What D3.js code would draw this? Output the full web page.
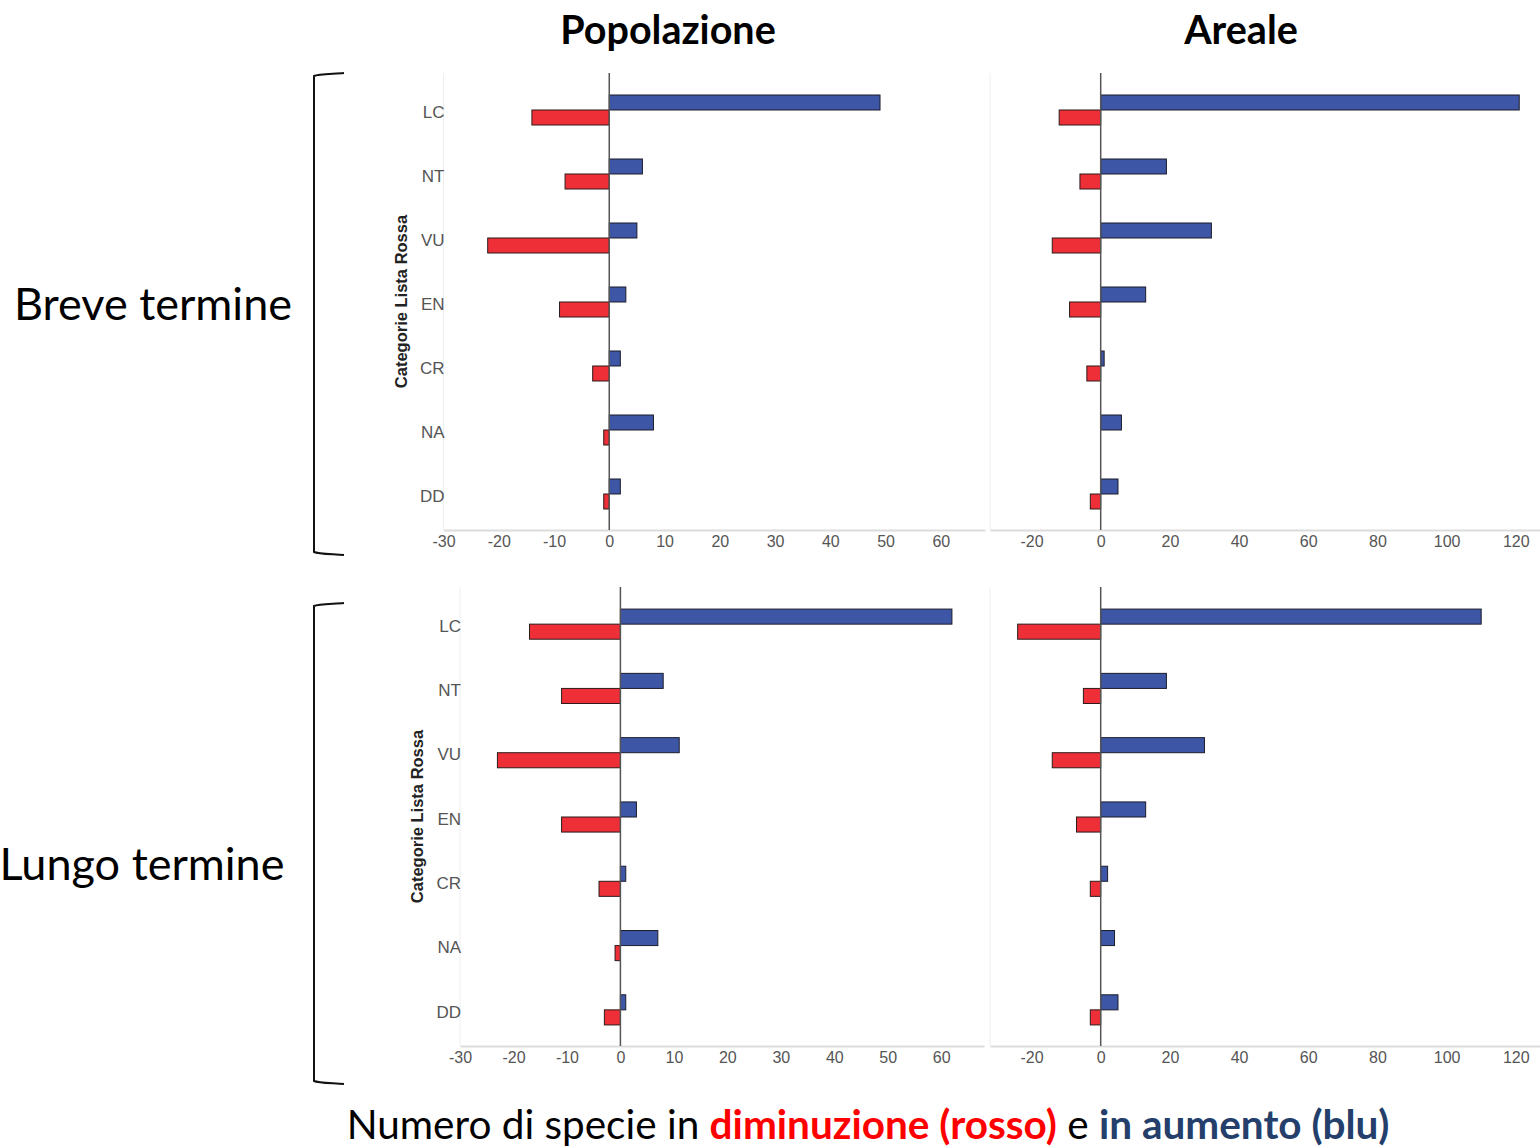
<!DOCTYPE html>
<html>
<head>
<meta charset="utf-8">
<script src="https://cdn.jsdelivr.net/npm/d3@7"></script>
<style>
  body { margin: 0; background: #fff; }
  svg { display: block; }
</style>
</head>
<body>
<svg id="chart" width="1540" height="1147"></svg>
<script>
// categorie Lista Rossa
const categories = ['LC', 'NT', 'VU', 'EN', 'CR', 'NA', 'DD'];

// Popolazione - breve termine
const popBreveUp = [49, 6, 5, 3, 2, 8, 2];
const popBreveDown = [-14, -8, -22, -9, -3, -1, -1];
// Areale - breve termine
const arBreveUp = [121, 19, 32, 13, 1, 6, 5];
const arBreveDown = [-12, -6, -14, -9, -4, 0, -3];
// Popolazione - lungo termine
const popLungoUp = [62, 8, 11, 3, 1, 7, 1];
const popLungoDown = [-17, -11, -23, -11, -4, -1, -3];
// Areale - lungo termine
const arLungoUp = [110, 19, 30, 13, 2, 4, 5];
const arLungoDown = [-24, -5, -14, -7, -3, 0, -3];

const popTicks = [-30, -20, -10, 0, 10, 20, 30, 40, 50, 60];
const arTicks = [-20, 0, 20, 40, 60, 80, 100, 120];

const BLUE = '#3d56a6';
const RED = '#ee2f37';

const svg = d3.select('#chart');
svg.append('rect').attr('width', 1540).attr('height', 1147).attr('fill', '#fff');

function drawPanel(opt) {
	const g = svg.append('g');
	const x = d3.scaleLinear().domain(opt.xDomain).range(opt.xRange);
	const y = d3.scaleBand()
		.domain(categories)
		.range([opt.top, opt.bottom - 5])
		.paddingInner(0.53125)
		.paddingOuter(0.25);
	const sub = d3.scaleBand().domain(['up', 'down']).range([0, y.bandwidth()]);

	// linea sinistra chiara
	g.append('line')
		.attr('x1', opt.xRange[0]).attr('x2', opt.xRange[0])
		.attr('y1', opt.top - 6).attr('y2', opt.bottom)
		.attr('stroke', '#eeeeee');

	// asse x
	const xAxis = g.append('g')
		.attr('transform', 'translate(0,' + opt.bottom + ')')
		.call(d3.axisBottom(x).tickValues(opt.ticks).tickSize(0).tickPadding(6).tickFormat(d3.format('d')));
	xAxis.select('.domain').attr('stroke', '#dcdcdc').attr('stroke-width', 2);
	xAxis.selectAll('text')
		.attr('fill', '#555')
		.style('font-family', '"Liberation Sans", Arial, sans-serif')
		.style('font-size', '16px')
		.text(d => d < 0 ? '-' + Math.abs(d) : d);

	// etichette categorie
	if (opt.showCats) {
		const yAxis = g.append('g')
			.attr('transform', 'translate(' + (opt.xRange[0] + 1) + ',0)')
			.call(d3.axisLeft(y).tickSize(0).tickPadding(0));
		yAxis.select('.domain').remove();
		yAxis.selectAll('text')
			.attr('dy', '0.45em')
			.attr('fill', '#555')
			.style('font-family', '"Liberation Sans", Arial, sans-serif')
			.style('font-size', '17px');
		g.append('text')
			.attr('transform', 'translate(' + opt.titleX + ',' + ((opt.top + opt.bottom) / 2 - 3) + ') rotate(-90)')
			.attr('text-anchor', 'middle')
			.attr('dy', '0.35em')
			.style('font-family', '"Liberation Sans", Arial, sans-serif')
			.style('font-size', '16.5px')
			.style('font-weight', 'bold')
			.attr('fill', '#222')
			.text('Categorie Lista Rossa');
	}

	const rows = categories.map((c, i) => ({cat: c, up: opt.up[i], down: opt.down[i]}));

	g.selectAll('rect.up')
		.data(rows.filter(d => d.up !== 0))
		.enter()
		.append('rect')
		.attr('class', 'up')
		.attr('x', x(0))
		.attr('y', d => y(d.cat) + sub('up'))
		.attr('width', d => x(d.up) - x(0))
		.attr('height', sub.bandwidth())
		.attr('fill', BLUE)
		.attr('stroke', '#1d1d2b')
		.attr('stroke-width', 1);

	g.selectAll('rect.down')
		.data(rows.filter(d => d.down !== 0))
		.enter()
		.append('rect')
		.attr('class', 'down')
		.attr('x', d => x(d.down))
		.attr('y', d => y(d.cat) + sub('down'))
		.attr('width', d => x(0) - x(d.down))
		.attr('height', sub.bandwidth())
		.attr('fill', RED)
		.attr('stroke', '#2b1b1b')
		.attr('stroke-width', 1);

	// linea dello zero
	g.append('line')
		.attr('x1', x(0)).attr('x2', x(0))
		.attr('y1', opt.top - 6).attr('y2', opt.bottom)
		.attr('stroke', '#555')
		.attr('stroke-width', 1.5);
}

drawPanel({xDomain: [-30, 68], xRange: [443.5, 985], top: 79, bottom: 530, ticks: popTicks,
	up: popBreveUp, down: popBreveDown, showCats: true, titleX: 401});
drawPanel({xDomain: [-32, 127], xRange: [990, 1540], top: 79, bottom: 530, ticks: arTicks,
	up: arBreveUp, down: arBreveDown, showCats: false});
drawPanel({xDomain: [-30, 68], xRange: [460, 984], top: 593, bottom: 1046, ticks: popTicks,
	up: popLungoUp, down: popLungoDown, showCats: true, titleX: 417});
drawPanel({xDomain: [-32, 127], xRange: [990, 1540], top: 593, bottom: 1046, ticks: arTicks,
	up: arLungoUp, down: arLungoDown, showCats: false});

// titoli colonne
const titleFont = 'Lato, Carlito, Calibri, sans-serif';
svg.append('text').attr('x', 668).attr('y', 44).attr('text-anchor', 'middle')
	.style('font-family', titleFont).style('font-size', '39.5px').style('font-weight', 'bold')
	.text('Popolazione');
svg.append('text').attr('x', 1241).attr('y', 44).attr('text-anchor', 'middle')
	.style('font-family', titleFont).style('font-size', '39.5px').style('font-weight', 'bold')
	.text('Areale');

// etichette righe
svg.append('text').attr('x', 153).attr('y', 320).attr('text-anchor', 'middle')
	.style('font-family', titleFont).style('font-size', '45px')
	.text('Breve termine');
svg.append('text').attr('x', 142).attr('y', 880).attr('text-anchor', 'middle')
	.style('font-family', titleFont).style('font-size', '45px')
	.text('Lungo termine');

// parentesi
function bracket(y0, y1) {
	svg.append('path')
		.attr('d', 'M344,' + y0 + ' C332,' + (y0 + 1) + ' 318,' + (y0 + 1) + ' 314,' + (y0 + 3) +
			' V' + (y1 - 3) + ' C318,' + (y1 - 1) + ' 332,' + (y1 - 1) + ' 344,' + y1)
		.attr('fill', 'none')
		.attr('stroke', '#111')
		.attr('stroke-width', 2);
}
bracket(73, 555);
bracket(603, 1084);

// didascalia
const cap = svg.append('text').attr('x', 868).attr('y', 1139).attr('text-anchor', 'middle')
	.style('font-family', titleFont).style('font-size', '40.5px');
cap.append('tspan').attr('fill', '#000').text('Numero di specie in ');
cap.append('tspan').attr('fill', '#ff0000').style('font-weight', 'bold').text('diminuzione (rosso)');
cap.append('tspan').attr('fill', '#000').text(' e ');
cap.append('tspan').attr('fill', '#243f6b').style('font-weight', 'bold').text('in aumento (blu)');
</script>
</body>
</html>
